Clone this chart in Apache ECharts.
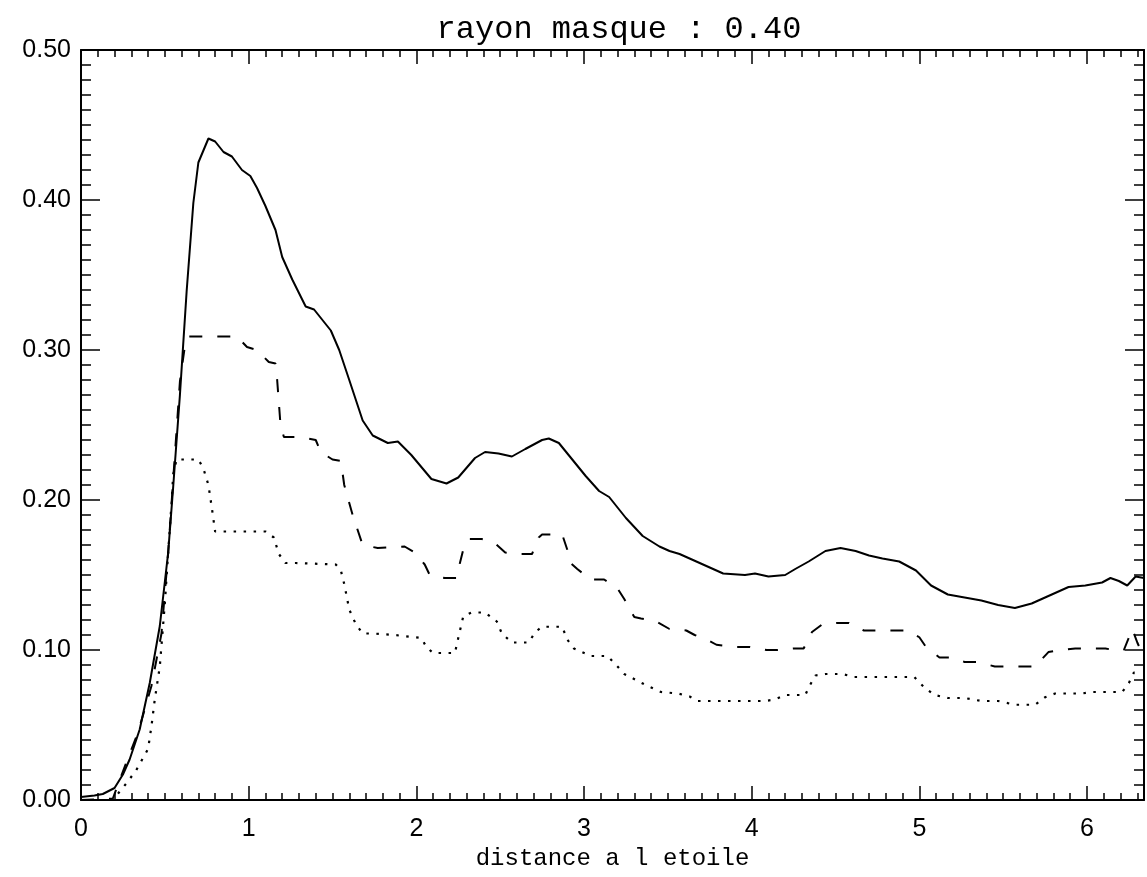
<!DOCTYPE html>
<html>
<head>
<meta charset="utf-8">
<script src="https://cdn.jsdelivr.net/npm/echarts@6/dist/echarts.min.js"></script>
<style>
html,body{margin:0;padding:0;background:#fff;}
#chart{width:1147px;height:877px;}
</style>
</head>
<body>
<div id="chart"></div>
<script>
const titleText = 'rayon masque : 0.40';
const xAxisName = 'distance a l etoile';

const solidX = [0,0.08,0.13,0.20,0.25,0.29,0.35,0.41,0.47,0.52,0.55,0.59,0.63,0.67,0.70,0.76,0.80,0.85,0.90,0.96,1.01,1.05,1.10,1.16,1.20,1.26,1.34,1.39,1.49,1.54,1.60,1.68,1.74,1.83,1.89,1.97,2.09,2.18,2.25,2.35,2.41,2.49,2.57,2.65,2.75,2.79,2.85,2.93,3.01,3.09,3.15,3.25,3.35,3.45,3.51,3.57,3.63,3.73,3.83,3.96,4.02,4.10,4.20,4.26,4.34,4.44,4.53,4.62,4.70,4.78,4.88,4.98,5.07,5.17,5.27,5.37,5.47,5.57,5.67,5.77,5.89,5.99,6.09,6.14,6.19,6.24,6.29,6.34];
const solidY = [0.002,0.003,0.004,0.008,0.017,0.027,0.047,0.078,0.116,0.165,0.209,0.270,0.339,0.398,0.425,0.441,0.439,0.432,0.429,0.420,0.416,0.408,0.396,0.380,0.362,0.347,0.329,0.327,0.313,0.300,0.280,0.253,0.243,0.238,0.239,0.230,0.214,0.211,0.215,0.228,0.232,0.231,0.229,0.234,0.240,0.241,0.238,0.227,0.216,0.206,0.202,0.188,0.176,0.169,0.166,0.164,0.161,0.156,0.151,0.150,0.151,0.149,0.150,0.154,0.159,0.166,0.168,0.166,0.163,0.161,0.159,0.153,0.143,0.137,0.135,0.133,0.130,0.128,0.131,0.136,0.142,0.143,0.145,0.148,0.146,0.143,0.149,0.148];

const dashX = [0,0.19,0.27,0.34,0.42,0.48,0.52,0.59,0.62,0.64,0.93,0.99,1.05,1.12,1.16,1.17,1.19,1.21,1.31,1.40,1.43,1.50,1.55,1.57,1.62,1.68,1.77,1.93,1.99,2.05,2.08,2.17,2.24,2.26,2.28,2.31,2.39,2.47,2.53,2.61,2.69,2.73,2.75,2.87,2.90,2.92,2.96,3.04,3.12,3.20,3.24,3.30,3.34,3.43,3.51,3.61,3.66,3.75,3.79,3.91,3.99,4.09,4.15,4.25,4.31,4.36,4.42,4.51,4.58,4.67,4.75,4.85,4.93,5.00,5.04,5.12,5.20,5.27,5.35,5.45,5.53,5.61,5.69,5.77,5.83,5.93,6.01,6.11,6.17,6.22,6.27,6.30,6.32];
const dashY = [0,0.001,0.025,0.045,0.076,0.111,0.165,0.279,0.303,0.309,0.309,0.302,0.300,0.292,0.291,0.280,0.250,0.242,0.242,0.240,0.232,0.227,0.226,0.210,0.190,0.170,0.168,0.169,0.165,0.157,0.150,0.148,0.148,0.158,0.167,0.174,0.174,0.171,0.165,0.164,0.164,0.175,0.177,0.177,0.167,0.158,0.154,0.147,0.147,0.141,0.134,0.122,0.121,0.119,0.114,0.113,0.110,0.106,0.1035,0.102,0.102,0.100,0.100,0.101,0.101,0.112,0.117,0.118,0.118,0.113,0.113,0.113,0.113,0.1085,0.102,0.095,0.095,0.092,0.092,0.089,0.089,0.089,0.089,0.0986,0.0997,0.101,0.101,0.101,0.0998,0.100,0.114,0.105,0.100];

const dotX = [0,0.19,0.27,0.33,0.40,0.42,0.44,0.47,0.50,0.52,0.54,0.55,0.57,0.70,0.73,0.76,0.78,0.80,0.86,1.10,1.15,1.18,1.22,1.28,1.52,1.55,1.57,1.60,1.64,1.68,1.74,1.87,2.03,2.06,2.10,2.23,2.25,2.28,2.33,2.41,2.48,2.51,2.57,2.67,2.71,2.75,2.87,2.90,2.94,3.04,3.14,3.20,3.24,3.38,3.46,3.56,3.63,3.68,4.08,4.14,4.20,4.32,4.34,4.38,4.44,4.54,4.61,4.97,5.03,5.09,5.17,5.27,5.37,5.47,5.57,5.69,5.75,5.81,5.97,6.03,6.21,6.25,6.28,6.31];
const dotY = [0,0.000,0.011,0.020,0.034,0.049,0.067,0.089,0.131,0.165,0.198,0.217,0.227,0.227,0.221,0.210,0.195,0.179,0.179,0.179,0.175,0.164,0.158,0.158,0.157,0.153,0.144,0.127,0.117,0.111,0.111,0.110,0.108,0.102,0.098,0.098,0.108,0.1225,0.125,0.125,0.119,0.111,0.105,0.105,0.112,0.1155,0.1155,0.107,0.101,0.096,0.096,0.089,0.084,0.076,0.072,0.071,0.069,0.066,0.066,0.067,0.070,0.070,0.075,0.083,0.084,0.084,0.082,0.082,0.075,0.070,0.068,0.068,0.066,0.066,0.0635,0.0635,0.0685,0.071,0.071,0.072,0.072,0.078,0.085,0.085];

const xTickLabels = ['0','1','2','3','4','5','6'];

const pairs = (xs, ys) => xs.map((x, i) => [x, ys[i]]);

const XMAX = 6.34, YMAX = 0.5;
const black = '#000';
const FONT_SANS = 'Liberation Sans';
const FONT_TITLE = 'Liberation Mono';

function xAx(position, interval, len, showLine, showLabel) {
  return {
    type: 'value', position: position, min: 0, max: XMAX, interval: interval,
    axisLine: {show: showLine, onZero: false, lineStyle: {color: black, width: 2}},
    axisTick: {show: true, inside: true, length: len, lineStyle: {color: black, width: 1.5}},
    axisLabel: {show: showLabel, margin: 17, color: black, fontFamily: FONT_SANS, fontSize: 25,
      showMaxLabel: false,
      formatter: v => { const i = Math.round(v); return Math.abs(v - i) < 1e-6 ? xTickLabels[i] : ''; }},
    splitLine: {show: false},
    name: showLabel ? xAxisName : '', nameLocation: 'middle', nameGap: 44,
    nameTextStyle: {color: black, fontFamily: FONT_TITLE, fontSize: 24}
  };
}
function yAx(position, interval, len, showLine, showLabel) {
  return {
    type: 'value', position: position, min: 0, max: YMAX, interval: interval,
    axisLine: {show: showLine, onZero: false, lineStyle: {color: black, width: 2}},
    axisTick: {show: true, inside: true, length: len, lineStyle: {color: black, width: 1.5}},
    axisLabel: {show: showLabel, margin: 10, color: black, fontFamily: FONT_SANS, fontSize: 25,
      formatter: v => v.toFixed(2)},
    splitLine: {show: false}
  };
}

const chart = echarts.init(document.getElementById('chart'), null, {renderer: 'canvas'});
chart.setOption({
  animation: false,
  backgroundColor: '#fff',
  title: {
    text: titleText, left: 614, top: 9, textAlign: 'center',
    textStyle: {color: black, fontFamily: FONT_TITLE, fontSize: 32, fontWeight: 'normal'}
  },
  grid: {left: 81, right: 3, top: 50, bottom: 77, containLabel: false},
  xAxis: [
    xAx('bottom', 1, 14, true, true),
    xAx('bottom', 0.1, 7, false, false),
    xAx('top', 1, 14, true, false),
    xAx('top', 0.1, 7, false, false)
  ],
  yAxis: [
    yAx('left', 0.1, 19, true, true),
    yAx('left', 0.01, 10, false, false),
    yAx('right', 0.1, 19, true, false),
    yAx('right', 0.01, 10, false, false)
  ],
  series: [
    {type: 'line', name: 'solid', xAxisIndex: 0, yAxisIndex: 0, data: pairs(solidX, solidY),
      showSymbol: false, lineStyle: {color: black, width: 2, type: 'solid'}},
    {type: 'line', name: 'dashed', xAxisIndex: 0, yAxisIndex: 0, data: pairs(dashX, dashY),
      showSymbol: false, lineStyle: {color: black, width: 2, type: [13, 15]}},
    {type: 'line', name: 'dotted', xAxisIndex: 0, yAxisIndex: 0, data: pairs(dotX, dotY),
      showSymbol: false, lineStyle: {color: black, width: 2.2, type: [2.5, 7.5]}}
  ]
});
</script>
</body>
</html>
